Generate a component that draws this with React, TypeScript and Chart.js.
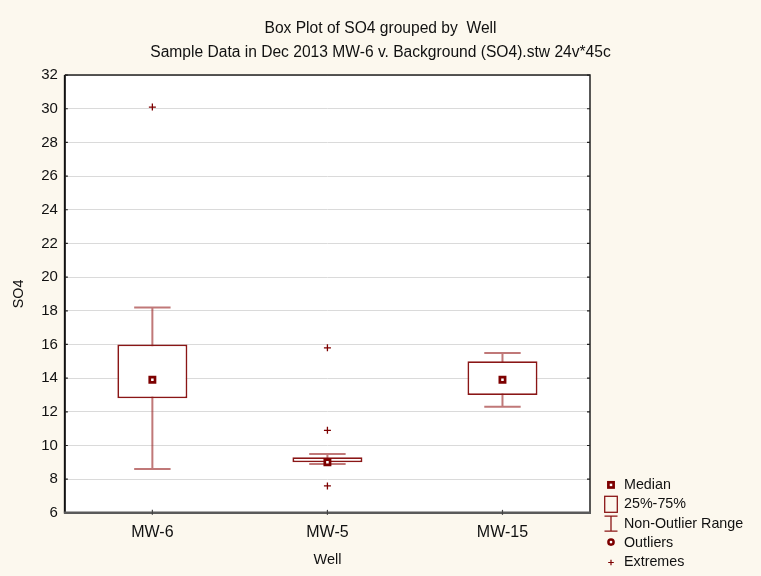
import React, { useEffect, useRef } from 'react';
import { Chart, registerables } from 'chart.js';

Chart.register(...registerables);

const wells = ['MW-6', 'MW-5', 'MW-15'];
const boxLow = [12.8, 9.0, 13.0];
const boxHigh = [16.0, 9.3, 15.0];
const medians = [13.9, 9.0, 13.9];
const rangeLow = [8.6, 8.9, 12.3];
const rangeHigh = [18.2, 9.5, 15.5];
const extremeWells = ['MW-6', 'MW-5', 'MW-5', 'MW-5'];
const extremeValues = [30.1, 15.8, 10.9, 7.6];
const yMin = 6;
const yMax = 32;
const yStep = 2;
const titleLines = [
  'Box Plot of SO4 grouped by  Well',
  'Sample Data in Dec 2013 MW-6 v. Background (SO4).stw 24v*45c',
];
const xTitle = 'Well';
const yTitle = 'SO4';
const legendLabels = ['Median', '25%-75%', 'Non-Outlier Range', 'Outliers', 'Extremes'];

const FONT = '"Liberation Sans", Arial, sans-serif';
const CREAM = '#fcf8ee';
const DARK_RED = '#7d0000';
const BOX_RED = '#8a1616';
const WHISKER = 'rgba(150, 30, 30, 0.6)';

const backgroundPlugin = {
  id: 'bgPlot',
  beforeDraw(chart: any) {
    const { ctx, chartArea: a } = chart;
    ctx.save();
    ctx.fillStyle = CREAM;
    ctx.fillRect(0, 0, chart.width, chart.height);
    ctx.fillStyle = '#ffffff';
    ctx.fillRect(a.left, a.top, a.right - a.left, a.bottom - a.top);
    ctx.restore();
  },
};

const whiskerPlugin = {
  id: 'whiskers',
  beforeDatasetsDraw(chart: any) {
    const { ctx } = chart;
    const xs = chart.scales.x;
    const ys = chart.scales.y;
    const meta = chart.getDatasetMeta(0);
    ctx.save();
    ctx.strokeStyle = WHISKER;
    ctx.lineWidth = 2;
    wells.forEach((_, i) => {
      const x = xs.getPixelForValue(i);
      const bw = meta.data[i] ? meta.data[i].width : 70;
      const cap = bw * 0.52;
      const yl = ys.getPixelForValue(rangeLow[i]);
      const yh = ys.getPixelForValue(rangeHigh[i]);
      ctx.beginPath();
      ctx.moveTo(x, yl);
      ctx.lineTo(x, yh);
      ctx.moveTo(x - cap / 2, yl);
      ctx.lineTo(x + cap / 2, yl);
      ctx.moveTo(x - cap / 2, yh);
      ctx.lineTo(x + cap / 2, yh);
      ctx.stroke();
    });
    ctx.restore();
  },
};

const framePlugin = {
  id: 'frame',
  afterDraw(chart: any) {
    const { ctx, chartArea: a } = chart;
    const xs = chart.scales.x;
    const ys = chart.scales.y;
    ctx.save();
    ctx.strokeStyle = '#222';
    ctx.lineWidth = 1.5;
    ctx.beginPath();
    ctx.moveTo(a.left, a.top);
    ctx.lineTo(a.right, a.top);
    ctx.lineTo(a.right, a.bottom);
    ctx.stroke();
    ctx.strokeStyle = '#111';
    ctx.lineWidth = 2;
    ctx.beginPath();
    ctx.moveTo(a.left, a.top);
    ctx.lineTo(a.left, a.bottom);
    ctx.stroke();
    ctx.lineWidth = 1.2;
    ctx.strokeStyle = '#222';
    for (let v = yMin; v <= yMax; v += yStep) {
      const y = ys.getPixelForValue(v);
      ctx.beginPath();
      ctx.moveTo(a.left, y);
      ctx.lineTo(a.left + 3, y);
      ctx.moveTo(a.right - 3, y);
      ctx.lineTo(a.right, y);
      ctx.stroke();
    }
    ctx.strokeStyle = '#5a5a5a';
    ctx.lineWidth = 2.5;
    ctx.beginPath();
    ctx.moveTo(a.left - 1, a.bottom);
    ctx.lineTo(a.right + 1, a.bottom);
    ctx.stroke();
    ctx.lineWidth = 1.2;
    ctx.strokeStyle = '#444';
    wells.forEach((_, i) => {
      const x = xs.getPixelForValue(i);
      ctx.beginPath();
      ctx.moveTo(x, a.bottom - 3);
      ctx.lineTo(x, a.bottom + 2);
      ctx.stroke();
    });
    ctx.restore();
  },
};

const legendPlugin = {
  id: 'statLegend',
  afterDraw(chart: any) {
    const { ctx, chartArea: a } = chart;
    const iconX = a.right + 21;
    const textX = a.right + 34;
    const step = 19.4;
    const lastY = chart.height - 5.5;
    const firstY = lastY - step * (legendLabels.length - 1);
    ctx.save();
    legendLabels.forEach((label, i) => {
      const y = firstY + i * step;
      ctx.save();
      if (i === 0) {
        ctx.fillStyle = '#ffffff';
        ctx.strokeStyle = DARK_RED;
        ctx.lineWidth = 2.7;
        ctx.fillRect(iconX - 2.6, y - 2.6, 5.2, 5.2);
        ctx.strokeRect(iconX - 2.6, y - 2.6, 5.2, 5.2);
      } else if (i === 1) {
        ctx.strokeStyle = BOX_RED;
        ctx.lineWidth = 1.3;
        ctx.strokeRect(iconX - 6.3, y - 8, 12.6, 16);
      } else if (i === 2) {
        ctx.strokeStyle = BOX_RED;
        ctx.lineWidth = 1.3;
        ctx.beginPath();
        ctx.moveTo(iconX, y - 7.5);
        ctx.lineTo(iconX, y + 7.5);
        ctx.moveTo(iconX - 6.5, y - 7.5);
        ctx.lineTo(iconX + 6.5, y - 7.5);
        ctx.moveTo(iconX - 6.5, y + 7.5);
        ctx.lineTo(iconX + 6.5, y + 7.5);
        ctx.stroke();
      } else if (i === 3) {
        ctx.strokeStyle = DARK_RED;
        ctx.fillStyle = '#ffffff';
        ctx.lineWidth = 2.5;
        ctx.beginPath();
        ctx.arc(iconX, y - 1, 2.6, 0, Math.PI * 2);
        ctx.fill();
        ctx.stroke();
      } else {
        ctx.strokeStyle = DARK_RED;
        ctx.lineWidth = 1.2;
        ctx.beginPath();
        ctx.moveTo(iconX - 2.8, y);
        ctx.lineTo(iconX + 2.8, y);
        ctx.moveTo(iconX, y - 2.8);
        ctx.lineTo(iconX, y + 2.8);
        ctx.stroke();
      }
      ctx.restore();
      ctx.fillStyle = '#111';
      ctx.font = `14.3px ${FONT}`;
      ctx.textBaseline = 'middle';
      ctx.textAlign = 'left';
      ctx.fillText(label, textX, y);
    });
    ctx.restore();
  },
};

export default function App() {
  const canvasRef = useRef<HTMLCanvasElement | null>(null);

  useEffect(() => {
    document.body.style.background = CREAM;
    const canvas = canvasRef.current;
    if (!canvas) return;

    const chart = new Chart(canvas, {
      type: 'bar',
      data: {
        labels: wells,
        datasets: [
          {
            type: 'bar',
            label: '25%-75%',
            data: wells.map((_, i) => [boxLow[i], boxHigh[i]]) as any,
            backgroundColor: '#ffffff',
            borderColor: BOX_RED,
            borderWidth: 1.8,
            borderSkipped: false,
            barPercentage: 0.4,
            categoryPercentage: 1,
            order: 3,
          } as any,
          {
            type: 'line',
            label: 'Median',
            data: medians,
            showLine: false,
            pointStyle: 'rect',
            pointRadius: 3.7,
            pointBackgroundColor: '#ffffff',
            pointBorderColor: DARK_RED,
            pointBorderWidth: 2.7,
            order: 1,
          } as any,
          {
            type: 'line',
            label: 'Extremes',
            data: extremeWells.map((w, i) => ({ x: w, y: extremeValues[i] })),
            showLine: false,
            pointStyle: 'cross',
            pointRadius: 3.5,
            pointBorderColor: DARK_RED,
            pointBorderWidth: 1.3,
            order: 2,
          } as any,
        ],
      },
      options: {
        animation: false,
        responsive: true,
        maintainAspectRatio: false,
        layout: { padding: { left: 0, right: 0, top: 0, bottom: 0 } },
        plugins: {
          legend: { display: false },
          tooltip: { enabled: false },
          title: {
            display: true,
            text: titleLines,
            color: '#111',
            font: { family: FONT, size: 15.6, weight: 'normal', lineHeight: 1.54 },
            padding: { top: 9, bottom: 10 },
          },
        },
        scales: {
          x: {
            type: 'category',
            offset: true,
            grid: { display: true, drawOnChartArea: false, drawTicks: false, offset: false },
            border: { display: false },
            ticks: { color: '#111', font: { family: FONT, size: 16 }, padding: 10 },
            title: {
              display: true,
              text: xTitle,
              color: '#111',
              font: { family: FONT, size: 14.5, lineHeight: 1.1 },
              padding: { top: 0, bottom: 0 },
            },
          },
          y: {
            type: 'linear',
            min: yMin,
            max: yMax,
            grid: { color: '#dadada', lineWidth: 1, drawTicks: false },
            border: { display: false },
            ticks: { stepSize: yStep, color: '#111', font: { family: FONT, size: 15 }, padding: 7 },
            title: {
              display: true,
              text: yTitle,
              color: '#111',
              font: { family: FONT, size: 14.3 },
              padding: { top: 2, bottom: 7 },
            },
          },
          legendSpace: {
            type: 'linear',
            position: 'right',
            display: true,
            grid: { display: false, drawTicks: false },
            border: { display: false },
            ticks: { display: false },
            afterFit(scale: any) {
              scale.width = 163;
            },
          } as any,
        },
      },
      plugins: [backgroundPlugin, whiskerPlugin, framePlugin, legendPlugin],
    });

    return () => chart.destroy();
  }, []);

  return (
    <div style={{ position: 'relative', width: '745px', height: '560px' }}>
      <canvas ref={canvasRef} />
    </div>
  );
}
